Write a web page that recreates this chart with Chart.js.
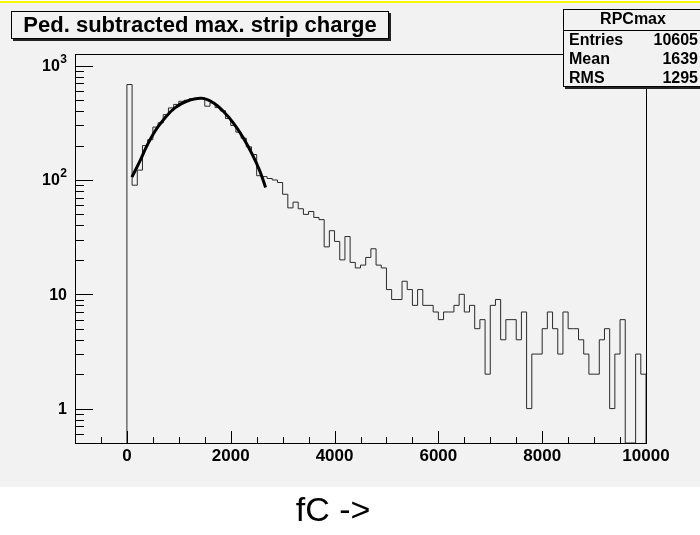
<!DOCTYPE html>
<html><head><meta charset="utf-8">
<script src="https://cdn.jsdelivr.net/npm/chart.js@4.4.1/dist/chart.umd.min.js"></script>
<style>html,body{margin:0;padding:0;background:#fff;overflow:hidden}canvas{display:block}</style>
</head><body>
<canvas id="c" width="700" height="535" style="width:700px;height:535px"></canvas>
<script>
// ---- data ----
const binStart = 0;
const binWidth = 100;
const counts = [
  684, 90, 122, 200, 225, 290, 316, 373, 427, 458,
  488, 498, 514, 514, 523, 442, 473, 430, 403, 345,
  300, 262, 232, 195, 167, 109, 107, 103, 100, 95,
  75, 57, 64, 56, 50, 53, 47, 45, 26, 36,
  29, 20, 32, 19, 17, 18, 21, 25, 18, 17,
  11, 9, 9, 13, 11, 8, 11, 8, 8, 7,
  6, 7, 7, 8, 10, 7, 8, 5, 6, 2,
  8, 9, 4, 6, 6, 4, 7, 1, 3, 3,
  5, 7, 5, 3, 7, 5, 5, 4, 3, 2,
  2, 4, 5, 1, 3, 6, 0, 0, 3, 2
];
const fitX = [96, 250, 380, 540, 732, 925, 1150, 1439, 1664, 1856, 2049, 2241, 2434, 2563, 2672];
const fitY = [106, 146, 197, 267, 349, 427, 488, 518, 473, 399, 316, 234, 161, 119, 86];
const xTickValues = [0, 2000, 4000, 6000, 8000, 10000];
const xTickLabels = ['0', '2000', '4000', '6000', '8000', '10000'];
const yTickValues = [1, 10, 100, 1000];
const yTickBase = ['1', '10', '10', '10'];
const yTickExp = ['', '', '2', '3'];
const titleText = 'Ped. subtracted max. strip charge';
const statsName = 'RPCmax';
const statsLabels = ['Entries', 'Mean', 'RMS'];
const statsValues = ['10605', '1639', '1295'];
const xAxisTitle = 'fC ->';
const X_MIN = -1000, X_MAX = 10000, Y_MIN = 0.5, Y_MAX = 1265;

// ---- build datasets ----
const histPts = [{x: binStart, y: Y_MIN}];
counts.forEach((c, i) => histPts.push({x: binStart + i * binWidth, y: c > 0 ? c : Y_MIN}));
const lastVal = counts[counts.length - 1];
histPts.push({x: binStart + counts.length * binWidth, y: lastVal > 0 ? lastVal : Y_MIN});
histPts.push({x: binStart + counts.length * binWidth, y: Y_MIN});
const fitPts = fitX.map((x, i) => ({x: x, y: fitY[i]}));

const FONT = 'Liberation Sans, Arial, Helvetica, sans-serif';

const decor = {
  id: 'decor',
  beforeDraw(chart) {
    const ctx = chart.ctx;
    ctx.save();
    ctx.fillStyle = '#ffffff';
    ctx.fillRect(0, 0, chart.width, chart.height);
    ctx.fillStyle = '#f2f2f2';
    ctx.fillRect(0, 3, chart.width, 484);
    ctx.fillStyle = '#f6f600';
    ctx.fillRect(0, 1, chart.width, 2);
    ctx.restore();
  },
  afterDatasetsDraw(chart) {
    const ctx = chart.ctx, a = chart.chartArea;
    const xs = chart.scales.x, ys = chart.scales.y;
    ctx.save();
    ctx.strokeStyle = '#000';
    ctx.lineWidth = 1;
    // frame
    ctx.strokeRect(Math.round(a.left) + 0.5, Math.round(a.top) + 0.5, Math.round(a.right - a.left), Math.round(a.bottom - a.top));
    ctx.beginPath();
    // x ticks (inside)
    for (let v = X_MIN; v <= X_MAX; v += 500) {
      const px = Math.round(xs.getPixelForValue(v)) + 0.5;
      const len = xTickValues.includes(v) ? 12 : 6;
      ctx.moveTo(px, a.bottom);
      ctx.lineTo(px, a.bottom - len);
    }
    // y ticks (inside)
    for (let d = -1; d <= 3; d++) {
      for (let k = 1; k <= 9; k++) {
        const v = k * Math.pow(10, d);
        if (v < Y_MIN || v > Y_MAX) continue;
        const py = Math.round(ys.getPixelForValue(v)) + 0.5;
        const len = k === 1 ? 18 : 9;
        ctx.moveTo(a.left, py);
        ctx.lineTo(a.left + len, py);
      }
    }
    ctx.stroke();
    // y tick labels with real superscripts
    ctx.fillStyle = '#000';
    ctx.textBaseline = 'middle';
    yTickValues.forEach((v, i) => {
      const py = ys.getPixelForValue(v);
      const right = a.left - 8;
      if (yTickExp[i]) {
        ctx.font = 'bold 12px ' + FONT;
        ctx.textAlign = 'right';
        const ew = ctx.measureText(yTickExp[i]).width;
        ctx.fillText(yTickExp[i], right, py - 6);
        ctx.font = 'bold 16px ' + FONT;
        ctx.fillText(yTickBase[i], right - ew - 0.5, py + 1);
      } else {
        ctx.font = 'bold 16px ' + FONT;
        ctx.textAlign = 'right';
        ctx.fillText(yTickBase[i], right, py + 1);
      }
    });
    ctx.restore();
  },
  afterDraw(chart) {
    const ctx = chart.ctx;
    ctx.save();
    // title box
    ctx.fillStyle = '#222';
    ctx.fillRect(13, 13, 378, 28);
    ctx.fillStyle = '#f2f2f2';
    ctx.fillRect(11, 11, 377, 27);
    ctx.strokeStyle = '#000';
    ctx.lineWidth = 1;
    ctx.strokeRect(11.5, 11.5, 377, 27);
    ctx.fillStyle = '#000';
    ctx.font = 'bold 22px ' + FONT;
    ctx.textAlign = 'center';
    ctx.textBaseline = 'middle';
    ctx.fillText(titleText, 200, 25.5);
    // stats box
    ctx.fillStyle = '#222';
    ctx.fillRect(565, 11, 140, 78);
    ctx.fillStyle = '#f2f2f2';
    ctx.fillRect(563, 9, 140, 77);
    ctx.strokeRect(563.5, 9.5, 140, 77);
    ctx.beginPath();
    ctx.moveTo(563, 30.5); ctx.lineTo(700, 30.5);
    ctx.stroke();
    ctx.fillStyle = '#000';
    ctx.font = 'bold 16px ' + FONT;
    ctx.textAlign = 'center';
    ctx.fillText(statsName, 633, 20);
    const rows = [41, 60, 79];
    statsLabels.forEach((lab, i) => {
      ctx.textAlign = 'left';
      ctx.fillText(lab, 569, rows[i]);
      ctx.textAlign = 'right';
      ctx.fillText(statsValues[i], 698, rows[i]);
    });
    // axis title
    ctx.font = '34px ' + FONT;
    ctx.textAlign = 'center';
    ctx.fillText(xAxisTitle, 333, 512);
    ctx.restore();
  }
};

new Chart(document.getElementById('c'), {
  type: 'line',
  data: {
    datasets: [
      {
        label: 'fit', data: fitPts, borderColor: '#000', borderWidth: 3,
        pointRadius: 0, tension: 0.4, fill: false
      },
      {
        label: 'RPCmax', data: histPts, borderColor: '#2a2a2a', borderWidth: 1,
        pointRadius: 0, stepped: true, fill: false
      }
    ]
  },
  options: {
    responsive: false,
    animation: false,
    devicePixelRatio: 1,
    layout: {padding: {left: 0, top: 54, right: 54, bottom: 0}},
    plugins: {legend: {display: false}, title: {display: false}, tooltip: {enabled: false}},
    scales: {
      x: {
        type: 'linear', min: X_MIN, max: X_MAX,
        afterBuildTicks: s => { s.ticks = xTickValues.map(v => ({value: v})); },
        afterFit: s => { s.height = 92; },
        grid: {display: false, drawTicks: false},
        border: {display: false},
        ticks: {
          autoSkip: false, maxRotation: 0, padding: 3, color: '#000',
          font: {family: FONT, size: 17, weight: 'bold'},
          callback: v => xTickLabels[xTickValues.indexOf(v)]
        }
      },
      y: {
        type: 'logarithmic', min: Y_MIN, max: Y_MAX,
        afterBuildTicks: s => { s.ticks = yTickValues.map(v => ({value: v})); },
        afterFit: s => { s.width = 75; },
        grid: {display: false, drawTicks: false},
        border: {display: false},
        ticks: {display: false}
      }
    }
  },
  plugins: [decor]
});
</script>
</body></html>
